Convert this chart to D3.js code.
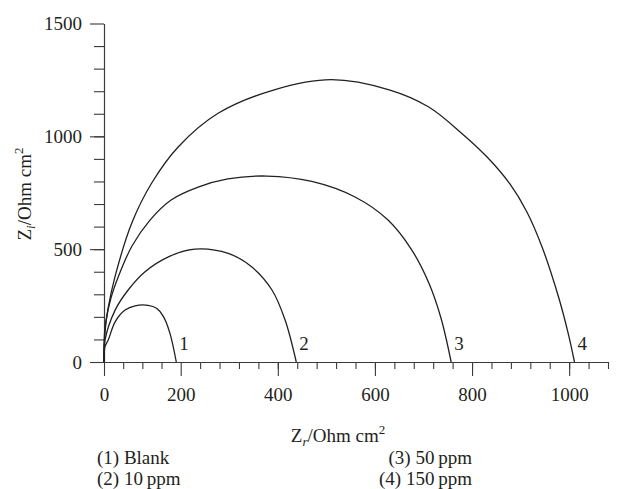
<!DOCTYPE html>
<html>
<head>
<meta charset="utf-8">
<script src="https://cdn.jsdelivr.net/npm/d3@7"></script>
<style>
body { margin: 0; background: #fff; }
text { font-family: "Liberation Serif", "DejaVu Serif", serif; fill: #231f20; }
</style>
</head>
<body>
<script>

// Nyquist curves, [Zr, Zi] in Ohm cm2
var blank   = [[0,0],[2.6,68],[11,97],[29,178],[55,230],[81,249],[115,251],[137,238],[155,201],[172,127],[188.5,0]];
var ppm10   = [[0,0],[2.6,97],[29,230],[63,319],[107,400],[168,466],[229,500],[298,481],[346,422],[388,319],[415,186],[438,0]];
var ppm50   = [[0,0],[2.6,150],[18.3,284],[37.3,378],[73,514],[120,629],[175,718],[236,775],[297,811],[377,824],[470,800],[559,731],[627,629],[676,496],[711,350],[736,195],[757,0]];
var ppm150  = [[0,0],[2.6,133],[10.4,235],[28.7,378],[72,614],[124,792],[194,954],[277,1102],[391,1205],[510,1251],[631,1205],[710,1131],[779,1013],[833,904],[878,789],[913,665],[944,511],[978,289],[998,127],[1011,0]];

var curveNames = ["1", "2", "3", "4"];
var legendLeft  = ["(1) Blank", "(2) 10\u2009ppm"];
var legendRight = ["(3) 50\u2009ppm", "(4) 150\u2009ppm"];

var xMajor = [0, 200, 400, 600, 800, 1000];
var yMajor = [0, 500, 1000, 1500];

var w = 618, h = 489;

var svg = d3.select("body")
	.append("svg")
	.attr("width", w)
	.attr("height", h);

// x axis of the original is not uniform between 0 and 200
var x = d3.scaleLinear()
	.domain([0, 200, 1080])
	.range([104, 180.7, 608]);

var y = d3.scaleLinear()
	.domain([0, 1500])
	.range([362, 23.5]);

var xMinor = d3.range(50, 200, 50).concat(d3.range(240, 1081, 40));
var yMinor = d3.range(100, 1500, 100);

function styleAxis(g) {
	g.selectAll("path, line").attr("stroke", "#3a3a3a").attr("stroke-width", 1.1);
	g.selectAll("text").attr("font-family", null).attr("fill", null).style("font-size", "19px");
	g.attr("font-family", null).attr("font-size", null);
}

svg.append("g")
	.attr("transform", "translate(0," + y(0) + ")")
	.call(d3.axisBottom(x).tickValues(xMinor).tickSize(7).tickSizeOuter(0).tickFormat(""))
	.call(styleAxis);

svg.append("g")
	.attr("transform", "translate(0," + y(0) + ")")
	.call(d3.axisBottom(x).tickValues(xMajor).tickSize(14).tickSizeOuter(0).tickPadding(12).tickFormat(d3.format("d")))
	.call(styleAxis);

svg.append("g")
	.attr("transform", "translate(" + x(0) + ",0)")
	.call(d3.axisLeft(y).tickValues(yMinor).tickSize(10).tickSizeOuter(0).tickFormat(""))
	.call(styleAxis);

svg.append("g")
	.attr("transform", "translate(" + x(0) + ",0)")
	.call(d3.axisLeft(y).tickValues(yMajor).tickSize(14).tickSizeOuter(0).tickPadding(8).tickFormat(d3.format("d")))
	.call(styleAxis);

var line = d3.line()
	.x(function(d) { return x(d[0]); })
	.y(function(d) { return y(d[1]); })
	.curve(d3.curveCatmullRom.alpha(0.5));

var series = [blank, ppm10, ppm50, ppm150];

svg.selectAll("path.curve")
	.data(series)
	.enter()
	.append("path")
	.attr("class", "curve")
	.attr("d", line)
	.attr("fill", "none")
	.attr("stroke", "#231f20")
	.attr("stroke-width", 1.3);

svg.selectAll("text.num")
	.data(series)
	.enter()
	.append("text")
	.attr("class", "num")
	.attr("x", function(d) { return x(d[d.length - 1][0]) + 3; })
	.attr("y", y(0) - 12)
	.style("font-size", "19px")
	.text(function(d, i) { return curveNames[i]; });

// axis titles
var yt = svg.append("text")
	.attr("transform", "translate(31,194) rotate(-90)")
	.attr("text-anchor", "middle")
	.style("font-size", "19px");
yt.append("tspan").text("Z");
yt.append("tspan").attr("font-style", "italic").attr("font-size", "13px").attr("dy", 4).text("i");
yt.append("tspan").attr("dy", -4).text("/Ohm cm");
yt.append("tspan").attr("font-size", "13px").attr("dy", -8).text("2");

var xt = svg.append("text")
	.attr("x", 338)
	.attr("y", 442)
	.attr("text-anchor", "middle")
	.style("font-size", "19px");
xt.append("tspan").text("Z");
xt.append("tspan").attr("font-style", "italic").attr("font-size", "13px").attr("dy", 4).text("r");
xt.append("tspan").attr("dy", -4).text("/Ohm cm");
xt.append("tspan").attr("font-size", "13px").attr("dy", -8).text("2");

// legend
svg.selectAll("text.legL")
	.data(legendLeft)
	.enter()
	.append("text")
	.attr("class", "legL")
	.attr("x", 97)
	.attr("y", function(d, i) { return 464 + i * 21; })
	.style("font-size", "19px")
	.text(function(d) { return d; });

svg.selectAll("text.legR")
	.data(legendRight)
	.enter()
	.append("text")
	.attr("class", "legR")
	.attr("x", 472)
	.attr("y", function(d, i) { return 464 + i * 21; })
	.attr("text-anchor", "end")
	.style("font-size", "19px")
	.text(function(d) { return d; });

</script>
</body>
</html>
